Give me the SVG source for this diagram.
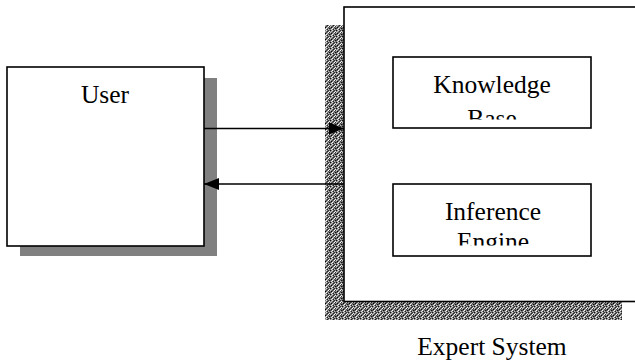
<svg xmlns="http://www.w3.org/2000/svg" width="635" height="364" viewBox="0 0 635 364">
<style>
.box{fill:#fff;stroke:#000;stroke-width:1.6}
.lbl{font-family:'Liberation Serif','Times New Roman','DejaVu Serif',serif;font-size:25.5px;fill:#000;text-anchor:middle}
.conn{stroke:#000;stroke-width:1.4;fill:none}
</style>
<defs>
<pattern id="stip" width="6" height="6" patternUnits="userSpaceOnUse">
<rect width="6" height="6" fill="#7a7a7a"/>
<rect x="0" y="0" width="1" height="1" fill="#111"/>
<rect x="2" y="0" width="1" height="1" fill="#ddd"/>
<rect x="4" y="0" width="1" height="1" fill="#333"/>
<rect x="1" y="1" width="1" height="1" fill="#bbb"/>
<rect x="3" y="1" width="1" height="1" fill="#222"/>
<rect x="5" y="1" width="1" height="1" fill="#eee"/>
<rect x="0" y="2" width="1" height="1" fill="#ccc"/>
<rect x="2" y="2" width="1" height="1" fill="#444"/>
<rect x="4" y="2" width="1" height="1" fill="#fff"/>
<rect x="5" y="2" width="1" height="1" fill="#333"/>
<rect x="1" y="3" width="1" height="1" fill="#000"/>
<rect x="3" y="3" width="1" height="1" fill="#ccc"/>
<rect x="4" y="3" width="1" height="1" fill="#555"/>
<rect x="0" y="4" width="1" height="1" fill="#444"/>
<rect x="2" y="4" width="1" height="1" fill="#fff"/>
<rect x="5" y="4" width="1" height="1" fill="#111"/>
<rect x="1" y="5" width="1" height="1" fill="#ddd"/>
<rect x="3" y="5" width="1" height="1" fill="#222"/>
<rect x="4" y="5" width="1" height="1" fill="#bbb"/>
</pattern>
<marker id="ah" viewBox="0 0 15 12" refX="15" refY="6" markerWidth="15" markerHeight="12" markerUnits="userSpaceOnUse" orient="auto">
<path d="M0,0 L15,6 L0,12 Z" fill="#000"/>
</marker>
<clipPath id="kbClip"><rect x="394" y="58" width="196" height="61.5"/></clipPath>
<clipPath id="ieClip"><rect x="394" y="185" width="196" height="60.5"/></clipPath>
</defs>

<g id="user">
<rect x="20" y="78" width="197" height="178" fill="#808080"/>
<rect class="box" x="7" y="67" width="197" height="179"/>
<text class="lbl" x="105" y="103" font-family="Liberation Serif">User</text>
</g>

<g id="expert-system">
<rect x="325" y="25" width="297" height="295" fill="url(#stip)"/>
<rect class="box" x="344" y="7" width="300" height="294.5"/>
<text class="lbl" x="492" y="355" font-family="Liberation Serif">Expert System</text>
</g>

<g id="knowledge-base">
<rect class="box" x="393" y="57" width="198" height="71"/>
<g clip-path="url(#kbClip)">
<text class="lbl" x="492" y="93" font-family="Liberation Serif">Knowledge</text>
<text class="lbl" x="492" y="127" font-family="Liberation Serif">Base</text>
</g>
</g>

<g id="inference-engine">
<rect class="box" x="393" y="184" width="198" height="72"/>
<g clip-path="url(#ieClip)">
<text class="lbl" x="493" y="220" font-family="Liberation Serif">Inference</text>
<text class="lbl" x="493" y="250" font-family="Liberation Serif">Engine</text>
</g>
</g>

<g id="connectors">
<line class="conn" x1="204" y1="128.5" x2="344" y2="128.5" marker-end="url(#ah)"/>
<line class="conn" x1="344" y1="184" x2="204" y2="184" marker-end="url(#ah)"/>
</g>
</svg>
